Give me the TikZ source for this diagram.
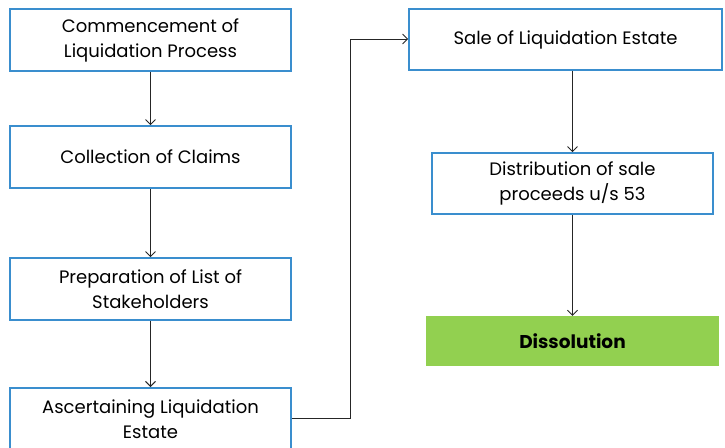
\documentclass[tikz,border=0pt]{standalone}
\usepackage{fontspec}
\setmainfont{Poppins}
\usetikzlibrary{arrows.meta}
\definecolor{boxblue}{RGB}{58,142,206}
\definecolor{dgreen}{RGB}{146,208,80}
\tikzset{
  stepbox/.style={draw=boxblue, line width=1.6pt, fill=white, align=center, font=\fontsize{18}{25}\selectfont},
  conn/.style={draw=black!85, line width=0.9pt, -{Straight Barb[length=5pt,width=10pt]}}
}
\begin{document}
\begin{tikzpicture}[x=1pt,y=-1pt]
\useasboundingbox (0,0) rectangle (725,447);
\node[stepbox, minimum width=281, minimum height=62] (a) at (150.5,40) {Commencement of\\Liquidation Process};
\node[stepbox, minimum width=281, minimum height=62] (b) at (150.5,157) {Collection of Claims};
\node[stepbox, minimum width=281, minimum height=62] (c) at (150.5,289) {Preparation of List of\\Stakeholders};
\node[stepbox, minimum width=281, minimum height=62, anchor=north] (d) at (150.5,387) {Ascertaining Liquidation\\Estate};
\node[stepbox, minimum width=313, minimum height=61] (e) at (565.5,39.5) {Sale of Liquidation Estate};
\node[stepbox, minimum width=281, minimum height=61] (f) at (572.5,183.5) {Distribution of sale\\proceeds u/s 53};
\node[fill=dgreen, minimum width=293, minimum height=50, font=\fontsize{18.5}{24}\selectfont\bfseries] (g) at (572.5,341) {Dissolution};
\coordinate (k1) at (350,418);
\coordinate (k2) at (350,39);
\draw[conn] (a) -- (b);
\draw[conn] (b) -- (c);
\draw[conn] (c) -- (d);
\draw[conn] (d.east |- k1) -- (k1) -- (k2) -- (e.west |- k2);
\draw[conn] (e.south -| f) -- (f);
\draw[conn] (f) -- (g);
\end{tikzpicture}
\end{document}
